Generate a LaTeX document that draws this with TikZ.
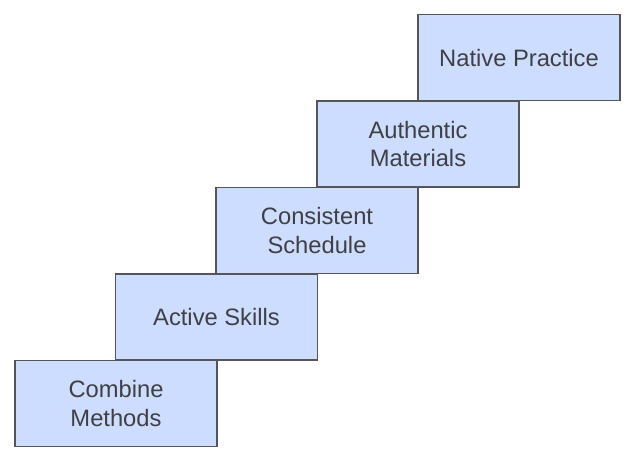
\documentclass[tikz,border=0pt]{standalone}
\usepackage{fontspec}
\setmainfont{Liberation Sans}
\usetikzlibrary{positioning}
\definecolor{stepfill}{HTML}{CCDDFF}
\definecolor{stepline}{HTML}{555555}
\definecolor{steptext}{HTML}{404040}
\begin{document}
\begin{tikzpicture}[x=0.75pt,y=-0.75pt]
    \useasboundingbox (0,0) rectangle (635,462);

        % the stairs, from the bottom step up to the top one
        \begin{scope}[every node/.style={rectangle,draw=stepline,line width=1pt,fill=stepfill,
                      text=steptext,minimum width=151.5pt,minimum height=64.5pt,align=center,
                      font=\fontsize{17.8pt}{21.6pt}\selectfont,inner sep=0pt}]
        \node (A) at (116,403.5) {Combine\\Methods};
        \node (B) at (216.5,317) {Active Skills};
        \node (C) at (317,230.5) {Consistent\\Schedule};
        \node (D) at (418,144) {Authentic\\Materials};
        \node (E) at (519,57.7) {Native Practice};
        \end{scope}

\end{tikzpicture}
\end{document}
